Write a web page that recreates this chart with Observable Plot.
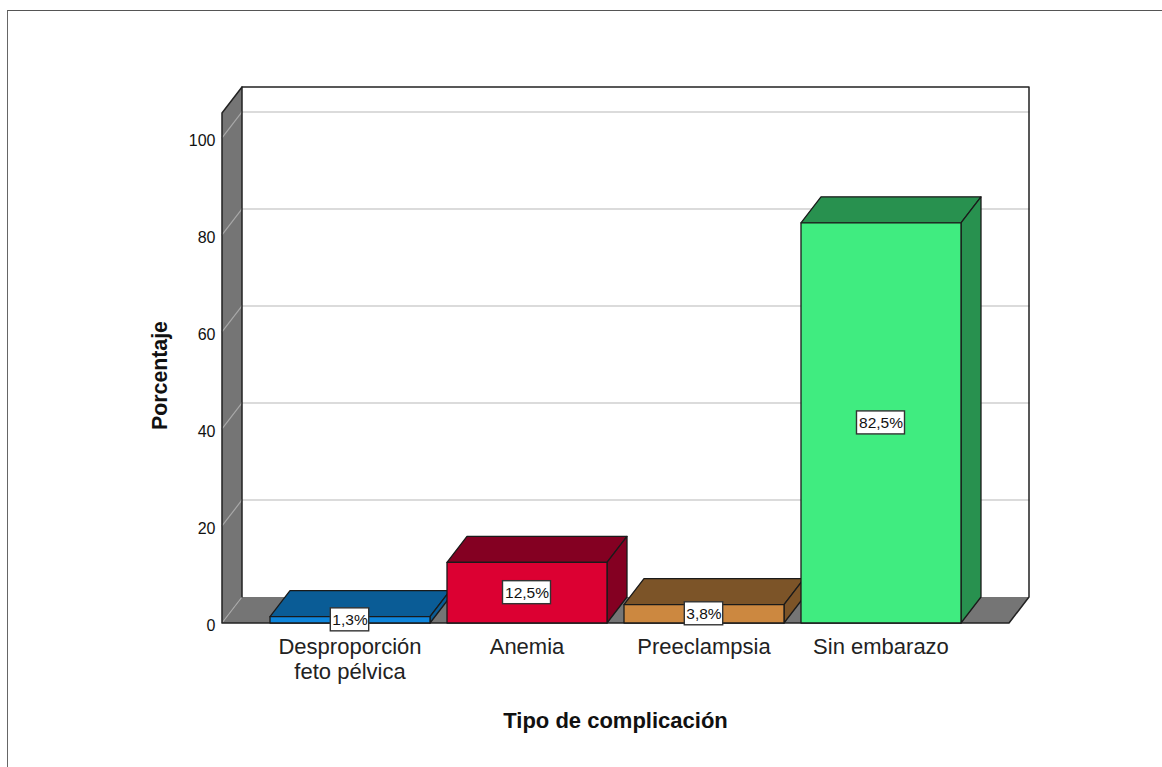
<!DOCTYPE html>
<html><head><meta charset="utf-8">
<script src="https://cdn.jsdelivr.net/npm/d3@7"></script>
<script src="https://cdn.jsdelivr.net/npm/@observablehq/plot@0.6"></script>
<style>
html,body{margin:0;padding:0;background:#fff;overflow:hidden}
#frame{position:absolute;left:7px;top:10px;right:0;bottom:0;border-top:1px solid #555;border-left:1px solid #666}
#chart{position:absolute;left:0;top:0}
svg{display:block}
</style></head>
<body><div id="frame"></div><div id="chart"></div>
<script>
const categories = ["Desproporción\nfeto pélvica", "Anemia", "Preeclampsia", "Sin embarazo"];
const values = [1.3, 12.5, 3.8, 82.5];
const labels = ["1,3%", "12,5%", "3,8%", "82,5%"];
const frontColors = ["#0F86DC", "#DC0032", "#CC8840", "#40EC80"];
const topColors = ["#0A5C96", "#840022", "#7C5428", "#28914F"];
const sideColors = ["#0A5C96", "#840022", "#7C5428", "#28914F"];
const yTicks = [0, 20, 40, 60, 80, 100];
const xAxisTitle = "Tipo de complicación";
const yAxisTitle = "Porcentaje";
const wallColor = "#757575";

// chart-space constants, in scale units
const xDomain = [-0.7232, 3.8362], yDomain = [0, 110.5];
const depthX = 0.113, depthY = 5.36;      // oblique offset of the back plane
const halfBar = 0.452;                    // half a bar's width
const xL = xDomain[0], xR = xDomain[1] - depthX, yTop = yDomain[1] - depthY;

function poly(id, color, pts) {
  return pts.concat([pts[0]]).map(([x, y]) => ({id, color, x, y}));
}
const walls = [
  ...poly("left", wallColor, [[xL,0],[xL+depthX,depthY],[xL+depthX,yTop+depthY],[xL,yTop]]),
  ...poly("floor", wallColor, [[xL,0],[xL+depthX,depthY],[xR+depthX,depthY],[xR,0]])
];
const gridBack = yTicks.filter(t => t > 0).flatMap(t => [
  {id:t, x:xL+depthX, y:t+depthY}, {id:t, x:xR+depthX, y:t+depthY}
]);
const gridWall = yTicks.flatMap(t => [
  {id:t, x:xL, y:t}, {id:t, x:xL+depthX, y:t+depthY}
]);
const faces = values.flatMap((v, i) => {
  const a = i - halfBar, b = i + halfBar;
  return [
    ...poly("top"+i, topColors[i], [[a,v],[a+depthX,v+depthY],[b+depthX,v+depthY],[b,v]]),
    ...poly("side"+i, sideColors[i], [[b,0],[b+depthX,depthY],[b+depthX,v+depthY],[b,v]]),
    ...poly("front"+i, frontColors[i], [[a,0],[b,0],[b,v],[a,v]])
  ];
});
const backEdge = [
  {x:xL, y:yTop}, {x:xL+depthX, y:yTop+depthY}, {x:xR+depthX, y:yTop+depthY}, {x:xR+depthX, y:depthY}, {x:xR, y:0}, {x:xL, y:0}, {x:xL, y:yTop}
];
const cornerEdge = [{x:xL+depthX, y:depthY}, {x:xL+depthX, y:yTop+depthY}];
const boxes = values.map((v, i) => ({i, v, label: labels[i], w: labels[i].length * 4.8 / 177}));
const boxH = 2.37;

const chart = Plot.plot({
  width: 1162, height: 767,
  marginLeft: 222, marginRight: 133, marginTop: 87, marginBottom: 144,
  x: {domain: xDomain, range: [221.5, 1028.5], axis: null},
  y: {domain: yDomain, range: [622.5, 86.5], axis: null},
  color: {type: "identity"},
  style: {fontFamily: "'Liberation Sans', Arial, sans-serif", background: "transparent", color: "#111"},
  marks: [
    Plot.line(walls, {x:"x", y:"y", z:"id", fill:"color", stroke:"none"}),
    Plot.line(gridWall, {x:"x", y:"y", z:"id", stroke:"#a8a8a8", strokeWidth:1.2}),
    Plot.line(gridBack, {x:"x", y:"y", z:"id", stroke:"#cfcfcf", strokeWidth:1.6}),
    Plot.line(backEdge, {x:"x", y:"y", stroke:"#222", strokeWidth:1.5}),
    Plot.line(cornerEdge, {x:"x", y:"y", stroke:"#222", strokeWidth:1.5}),
    Plot.line(faces, {x:"x", y:"y", z:"id", fill:"color", stroke:"#1a1a1a", strokeWidth:1.3, strokeLinejoin:"round"}),
    Plot.rect(boxes, {
      x1: d => d.i - d.w, x2: d => d.i + d.w,
      y1: d => d.v/2 - boxH, y2: d => d.v/2 + boxH,
      fill:"#fff", stroke:"#333", strokeWidth:1.4
    }),
    Plot.text(boxes, {x:"i", y: d => d.v/2, text:"label", fontSize:15.5, fill:"#111"}),
    Plot.axisY({ticks: yTicks, tickSize: 0, tickPadding: 7, fontSize: 16, tickFormat: d => d, label: null, dy: 3, anchor:"left", fill:"#111"}),
    Plot.axisX({ticks: [0,1,2,3], tickFormat: i => categories[i], tickSize: 0, tickPadding: 13, fontSize: 22, label: null, anchor:"bottom", lineHeight: 1.14, fill:"#222"}),
    Plot.text([xAxisTitle], {x: [(xL+xR)/2], frameAnchor:"bottom", dy: 97, fontSize: 22, fontWeight:"bold", lineAnchor:"middle", fill:"#111"}),
    Plot.text([yAxisTitle], {frameAnchor:"left", textAnchor:"middle", dx: -62, dy: 20, rotate:-90, fontSize: 21.3, fontWeight:"bold", fill:"#111"})
  ]
});
document.getElementById("chart").appendChild(chart);
</script></body></html>
